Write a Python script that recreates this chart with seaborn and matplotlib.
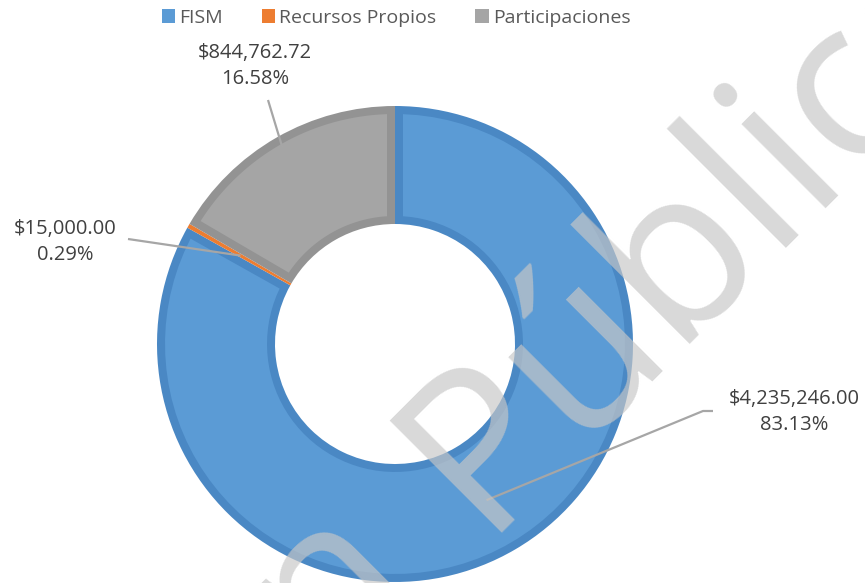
import numpy as np
import matplotlib
matplotlib.use("Agg")
import matplotlib.pyplot as plt
import seaborn as sns
from matplotlib.patches import Patch, Polygon

sns.set_theme(style="white")
plt.rcParams['font.family'] = ['Open Sans', 'DejaVu Sans']

# data
categories = ['FISM', 'Recursos Propios', 'Participaciones']
amounts = [4235246.00, 15000.00, 844762.72]
percents = ['83.13%', '0.29%', '16.58%']
fill_colors = ['#5b9bd5', '#ed7d31', '#a5a5a5']
edge_colors = ['#4a88c4', '#ed7d31', '#939393']

fig = plt.figure(figsize=(8.65, 5.83), dpi=100)
ax = fig.add_axes([0, 0, 1, 1])

cx, cy = 395, 239
r_out, ring = 238, 118
band = 8

# slices drawn in the darker border colour
wedges, _ = ax.pie(amounts, colors=edge_colors, startangle=90, counterclock=False,
                   radius=r_out, center=(cx, cy), frame=True,
                   wedgeprops=dict(width=ring, linewidth=0))
ax.set_xlim(0, 865)
ax.set_ylim(0, 583)
ax.set_aspect('equal')
ax.axis('off')


def inset_ring(w, b):
    # lighter inner face of a slice, inset by b pixels on all sides
    r1, r0 = w.r - b, w.r - w.width + b
    t1, t2 = np.deg2rad(w.theta1), np.deg2rad(w.theta2)
    outer = np.linspace(t1 + np.arcsin(b / r1), t2 - np.arcsin(b / r1), 80)
    inner = np.linspace(t2 - np.arcsin(b / r0), t1 + np.arcsin(b / r0), 80)
    xs = np.concatenate([cx + r1 * np.cos(outer), cx + r0 * np.cos(inner)])
    ys = np.concatenate([cy + r1 * np.sin(outer), cy + r0 * np.sin(inner)])
    return np.column_stack([xs, ys])


for w, fc in zip(wedges, fill_colors):
    if (w.theta2 - w.theta1) > 5:
        ax.add_patch(Polygon(inset_ring(w, band), closed=True, facecolor=fc,
                             edgecolor='none', zorder=w.get_zorder() + 0.1))

# labels with leader lines
text_color = '#404040'
label_pos = [(794, 171), (65, 341), (255, 517)]   # text centres
anchor_r = [181, 178, 226]
for i, (w, amt, pct, (tx, ty), ar) in enumerate(zip(wedges, amounts, percents, label_pos, anchor_r)):
    mid = np.deg2rad((w.theta1 + w.theta2) / 2)
    px, py = cx + ar * np.cos(mid), cy + ar * np.sin(mid)
    ax.text(tx, ty, f'${amt:,.2f}\n{pct}', ha='center', va='center',
            fontsize=14.5, color=text_color, linespacing=1.38, zorder=5)
    if i == 0:
        xs, ys = [px, 703, 713], [py, 172, 172]
    elif i == 2:
        xs, ys = [px, 268], [py, 483]
    else:
        xs, ys = [px, 128], [py, 344]
    ax.plot(xs, ys, color='#a6a6a6', lw=1.6, zorder=4, solid_capstyle='butt')

# legend
handles = [Patch(facecolor=c, edgecolor='none') for c in fill_colors]
ax.legend(handles, categories, loc='upper center', bbox_to_anchor=(0.458, 1.015),
          ncol=3, frameon=False, fontsize=14, handlelength=0.7, handleheight=0.7,
          handletextpad=0.2, columnspacing=2.0, labelcolor='#595959')

# watermark
ang = 45
ux, uy = np.cos(np.deg2rad(ang)), np.sin(np.deg2rad(ang))
bx, by = 480, 583 - 533
wm = dict(rotation=ang, rotation_mode='anchor', va='baseline', fontsize=160,
          color='#c7c7c7', alpha=0.68, zorder=10, family='Open Sans')
ax.text(bx, by, 'Pública', ha='left', **wm)
ax.text(bx - 80 * ux, by - 80 * uy, 'Versión', ha='right', **wm)

fig.savefig('out.png', dpi=100)
